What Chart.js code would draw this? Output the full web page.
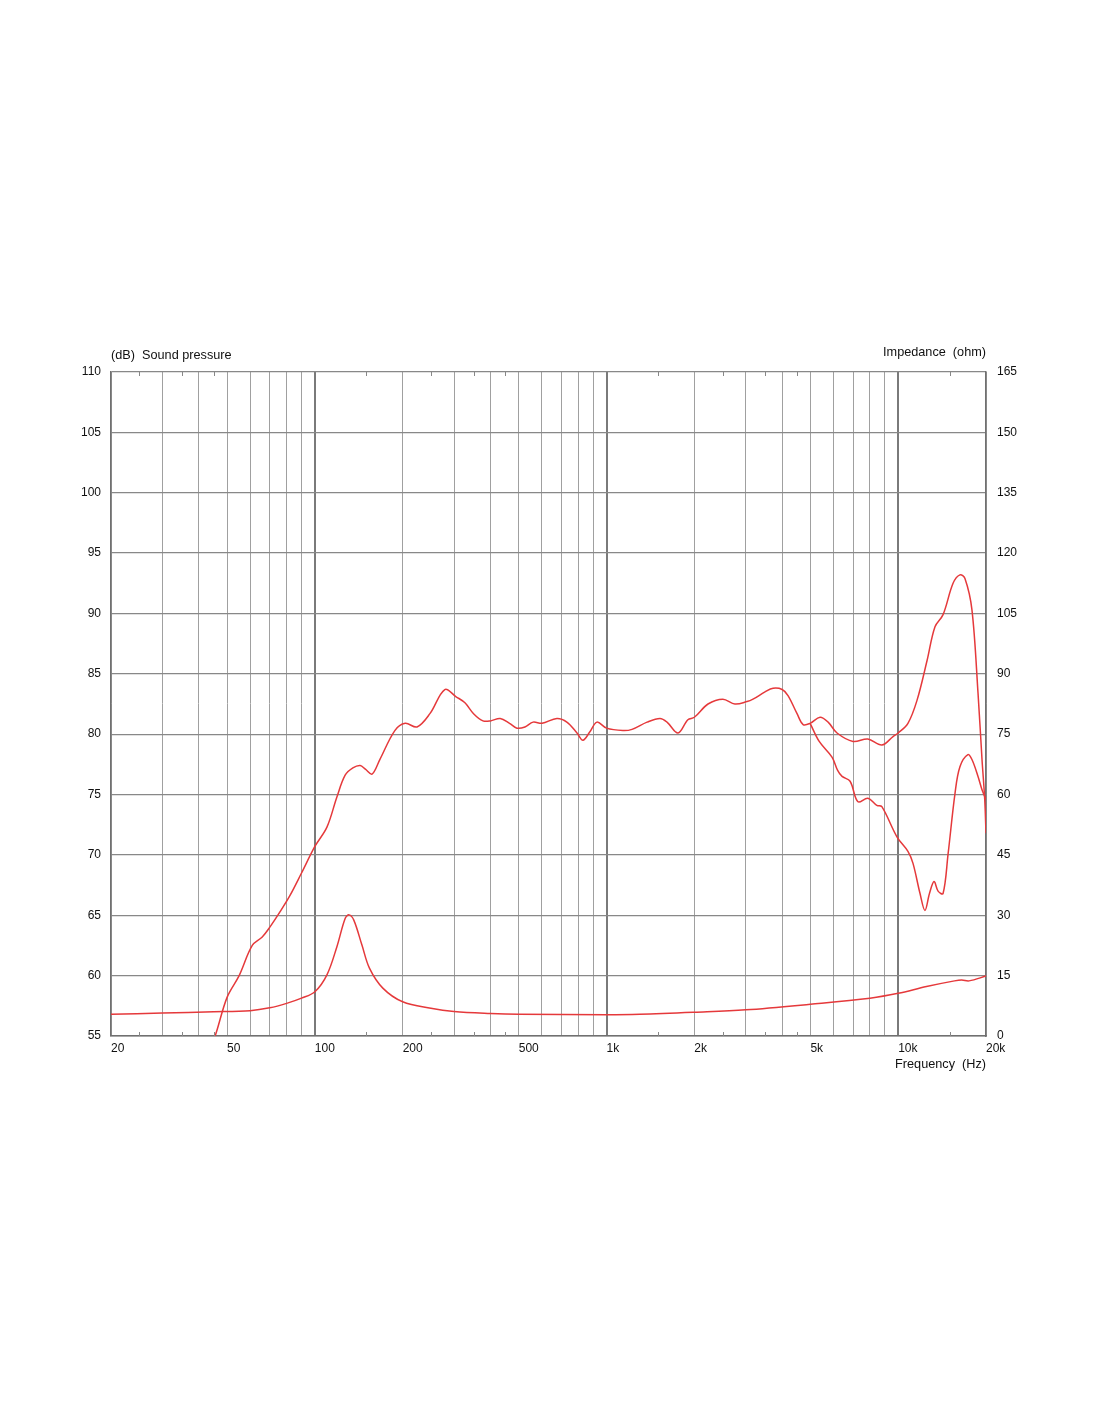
<!DOCTYPE html>
<html>
<head>
<meta charset="utf-8">
<title>Sound pressure / Impedance</title>
<script src="https://cdn.jsdelivr.net/npm/chart.js@4.4.1/dist/chart.umd.min.js"></script>
<style>
    html, body { margin: 0; padding: 0; background: #fff; }
    #wrap { position: relative; width: 1100px; height: 1422px; }
</style>
</head>
<body>
<div id="wrap"><canvas id="freqChart"></canvas></div>
<script>
/*
   Frequency response + impedance plot
   Values.
*/

// x grid (Hz) and which of them get a label
const gridFreqs = [20, 30, 40, 50, 60, 70, 80, 90, 100, 200, 300, 400, 500, 600, 700, 800, 900,
    1000, 2000, 3000, 4000, 5000, 6000, 7000, 8000, 9000, 10000, 20000];
const decadeFreqs = [100, 1000, 10000];
const freqLabels = { 20: '20', 50: '50', 100: '100', 200: '200', 500: '500', 1000: '1k',
    2000: '2k', 5000: '5k', 10000: '10k', 20000: '20k' };
const minorFreqs = [25, 35, 45, 150, 250, 350, 450, 1500, 2500, 3500, 4500, 15000];

// SPL, on-axis (dB)
const splFreq = [44, 45.5, 50, 55, 61, 66, 70, 76, 82, 90, 100, 110, 119, 127, 135, 143, 149, 157,
    167, 188, 204, 224, 248, 279, 305, 327, 350, 377, 400, 432, 465, 493, 525, 560, 601, 676, 731,
    792, 830, 877, 927, 1000, 1138, 1223, 1377, 1525, 1612, 1758, 1901, 2000, 2228, 2506, 2755,
    3032, 3178, 3494, 3724, 4000, 4190, 4500, 4720, 4990, 5395, 5750, 6170, 7000, 7870, 8790,
    9600, 10000, 10800, 11600, 12560, 13370, 14250, 15420, 16280, 16940, 17900, 18780, 19380,
    19800, 20000];
const splOn = [54.3, 55.0, 58.2, 60.0, 62.5, 63.2, 64.0, 65.3, 66.6, 68.5, 70.7, 72.3, 74.8, 76.6,
    77.2, 77.4, 77.1, 76.7, 77.9, 80.3, 80.9, 80.6, 81.7, 83.7, 83.1, 82.6, 81.7, 81.1, 81.1, 81.3,
    80.9, 80.5, 80.6, 81.0, 80.9, 81.3, 81.0, 80.1, 79.5, 80.2, 81.0, 80.5, 80.3, 80.4, 81.0, 81.3,
    81.0, 80.1, 81.2, 81.4, 82.5, 82.9, 82.5, 82.7, 82.9, 83.5, 83.8, 83.7, 83.2, 81.7, 80.8, 80.9,
    81.4, 81.0, 80.1, 79.4, 79.6, 79.1, 79.8, 80.1, 80.9, 82.8, 86.1, 88.9, 89.9, 92.5, 93.2, 92.9,
    90.3, 83.4, 77.9, 74.6, 71.8];

// SPL, off-axis branch above 5 kHz (dB)
const offFreq = [4990, 5360, 5930, 6200, 6420, 6840, 7280, 7870, 8450, 8790, 9900, 10800, 11240,
    11880, 12350, 12800, 13270, 13700, 14250, 14830, 15660, 16280, 17340, 17900, 18780, 19380, 20000];
const splOff = [80.9, 79.4, 78.1, 77.0, 76.5, 76.1, 74.4, 74.7, 74.1, 74.0, 71.5, 70.3, 69.3, 66.8,
    65.4, 66.8, 67.8, 67.0, 66.8, 70.1, 75.1, 77.3, 78.3, 77.9, 76.5, 75.4, 74.6];

// Impedance (ohm)
const impFreq = [20, 30, 45, 60, 70, 80, 90, 100, 110, 119, 127, 131, 136, 145, 154, 171, 200, 250,
    300, 400, 500, 1000, 1300, 2000, 3000, 5000, 8000, 10000, 12500, 15600, 16500, 17500, 20000];
const impVal = [5.4, 5.7, 6.0, 6.3, 7.0, 8.1, 9.4, 11.0, 15.2, 22.2, 29.2, 30.1, 28.8, 22.6, 16.8,
    11.9, 8.5, 6.9, 6.1, 5.6, 5.4, 5.3, 5.4, 5.9, 6.5, 7.9, 9.4, 10.6, 12.3, 13.7, 13.9, 13.7, 14.9];

const curveColor = '#e5393b';
const textColor = '#111';
const fontFamily = "'Liberation Sans', Arial, sans-serif";

document.addEventListener('DOMContentLoaded', () => {
    initFreqChart();
});

function toPoints(xs, ys) {
    return xs.map((x, i) => ({ x: x, y: ys[i] }));
}

/* ===== small ticks + axis captions ===== */
const decoPlugin = {
    id: 'deco',
    afterDraw(chart) {
        const c = chart.ctx;
        const area = chart.chartArea;
        const xs = chart.scales.x;
        c.save();
        c.strokeStyle = '#888';
        c.lineWidth = 1;
        minorFreqs.forEach(f => {
            const px = Math.round(xs.getPixelForValue(f)) + 0.5;
            c.beginPath();
            c.moveTo(px, area.top);
            c.lineTo(px, area.top + 4);
            c.moveTo(px, area.bottom);
            c.lineTo(px, area.bottom - 4);
            c.stroke();
        });

        c.fillStyle = textColor;
        c.font = '12.7px ' + fontFamily;
        c.textBaseline = 'middle';
        c.textAlign = 'left';
        c.fillText('(dB)  Sound pressure', area.left, area.top - 17);
        c.textAlign = 'right';
        c.fillText('Impedance  (ohm)', area.right, area.top - 20);
        c.fillText('Frequency  (Hz)', area.right, area.bottom + 28);
        c.restore();
    }
};

function initFreqChart() {
    const ctx = document.getElementById('freqChart');
    if (!ctx) return;

    const lineStyle = {
        borderColor: curveColor,
        borderWidth: 1.5,
        pointRadius: 0,
        fill: false,
        tension: 0.35
    };

    new Chart(ctx, {
        type: 'line',
        data: {
            datasets: [
                Object.assign({ label: 'SPL on-axis', data: toPoints(splFreq, splOn), yAxisID: 'y' }, lineStyle),
                Object.assign({ label: 'SPL off-axis', data: toPoints(offFreq, splOff), yAxisID: 'y' }, lineStyle),
                Object.assign({ label: 'Impedance', data: toPoints(impFreq, impVal), yAxisID: 'y1' }, lineStyle)
            ]
        },
        options: {
            responsive: true,
            maintainAspectRatio: false,
            animation: false,
            layout: {
                padding: { top: 372, left: 61, right: 64, bottom: 346 }
            },
            plugins: {
                legend: { display: false },
                tooltip: { enabled: false }
            },
            scales: {
                x: {
                    type: 'logarithmic',
                    min: 20,
                    max: 20000,
                    afterBuildTicks: (s) => {
                        s.ticks = gridFreqs.map(v => ({ value: v }));
                    },
                    afterFit: (s) => { s.height = 40; },
                    ticks: {
                        autoSkip: false,
                        maxRotation: 0,
                        align: 'start',
                        padding: 5,
                        color: textColor,
                        font: { family: fontFamily, size: 12 },
                        callback: (v) => freqLabels[v] || ''
                    },
                    grid: {
                        drawTicks: false,
                        color: (c) => decadeFreqs.includes(c.tick && c.tick.value) ? '#7a7a7a' : '#a0a0a0',
                        lineWidth: (c) => decadeFreqs.includes(c.tick && c.tick.value) ? 2 : 1
                    },
                    border: { color: '#707070', width: 1.5 }
                },
                y: {
                    position: 'left',
                    min: 55,
                    max: 110,
                    afterFit: (s) => { s.width = 50; },
                    ticks: {
                        stepSize: 5,
                        padding: 10,
                        color: textColor,
                        font: { family: fontFamily, size: 12 }
                    },
                    grid: {
                        drawTicks: false,
                        color: '#888',
                        lineWidth: 1.2
                    },
                    border: { color: '#707070', width: 1.5 }
                },
                y1: {
                    position: 'right',
                    min: 0,
                    max: 165,
                    afterFit: (s) => { s.width = 50; },
                    ticks: {
                        stepSize: 15,
                        padding: 11,
                        color: textColor,
                        font: { family: fontFamily, size: 12 }
                    },
                    grid: { display: false, drawTicks: false },
                    border: { color: '#707070', width: 1.5 }
                }
            }
        },
        plugins: [decoPlugin]
    });
}
</script>
</body>
</html>
